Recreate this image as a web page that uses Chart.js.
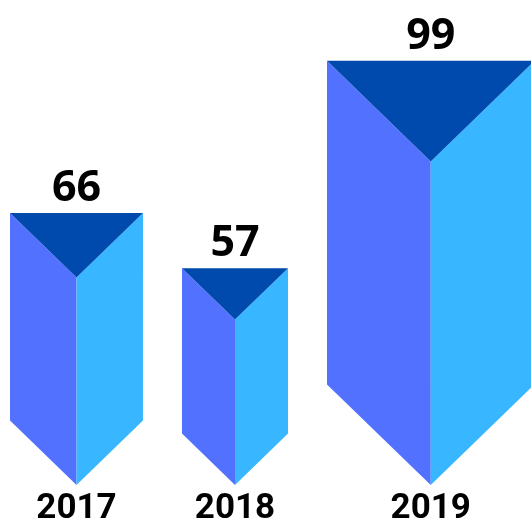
<!DOCTYPE html>
<html>
<head>
<meta charset="utf-8">
<script src="https://cdn.jsdelivr.net/npm/chart.js@4/dist/chart.umd.min.js"></script>
<style>
  html, body { margin: 0; padding: 0; background: #fff; }
  .chart-wrap { width: 531px; height: 523px; }
</style>
</head>
<body>
<div class="chart-wrap"><canvas class="js-prisms"></canvas></div>
<script>
const years = ["2017", "2018", "2019"];
const values = [66, 57, 99];

const faceLeft = "#5271ff";
const faceRight = "#38b6ff";
const faceTop = "#004aad";

// draws each bar as a triangular prism, width follows its height
const prismPlugin = {
  id: "prisms",
  afterDatasetsDraw(chart) {
    const ctx = chart.ctx;
    const base = chart.scales.y.bottom;
    const meta = chart.getDatasetMeta(0);
    let left = chart.chartArea.left;

    meta.data.forEach((bar, i) => {
      const top = bar.y;
      const h = base - top;
      const w = h * 0.489;
      const cap = w * 0.485;
      const right = left + w;
      const cx = left + w / 2;

      ctx.save();
      ctx.fillStyle = faceLeft;
      ctx.beginPath();
      ctx.moveTo(left, top);
      ctx.lineTo(cx, top + cap);
      ctx.lineTo(cx, base);
      ctx.lineTo(left, base - cap);
      ctx.closePath();
      ctx.fill();

      ctx.fillStyle = faceRight;
      ctx.beginPath();
      ctx.moveTo(right, top);
      ctx.lineTo(right, base - cap);
      ctx.lineTo(cx, base);
      ctx.lineTo(cx, top + cap);
      ctx.closePath();
      ctx.fill();

      ctx.fillStyle = faceTop;
      ctx.beginPath();
      ctx.moveTo(left, top);
      ctx.lineTo(right, top);
      ctx.lineTo(cx, top + cap);
      ctx.closePath();
      ctx.fill();

      ctx.fillStyle = "#000";
      ctx.textAlign = "center";
      ctx.textBaseline = "alphabetic";
      ctx.font = "bold 43px 'Open Sans'";
      ctx.fillText(String(values[i]), cx, top - 12);
      ctx.font = "bold 35px Roboto";
      ctx.fillText(years[i], cx, 518);
      ctx.restore();

      left = right + 39;
    });
  },
};

const chartprisms = function () {
  const el = document.querySelector(".js-prisms");

  new Chart(el, {
    type: "bar",
    data: {
      labels: years,
      datasets: [
        {
          label: "Value",
          data: values,
          backgroundColor: "rgba(0,0,0,0)",
        },
      ],
    },
    options: {
      responsive: true,
      maintainAspectRatio: false,
      animation: false,
      layout: { padding: { top: 57, bottom: 38, left: 10, right: 0 } },
      scales: {
        y: { type: "logarithmic", min: 32, max: 100, display: false },
        x: { display: false },
      },
      plugins: {
        legend: { display: false },
        tooltip: { enabled: false },
      },
    },
    plugins: [prismPlugin],
  });
};

chartprisms();
</script>
</body>
</html>
